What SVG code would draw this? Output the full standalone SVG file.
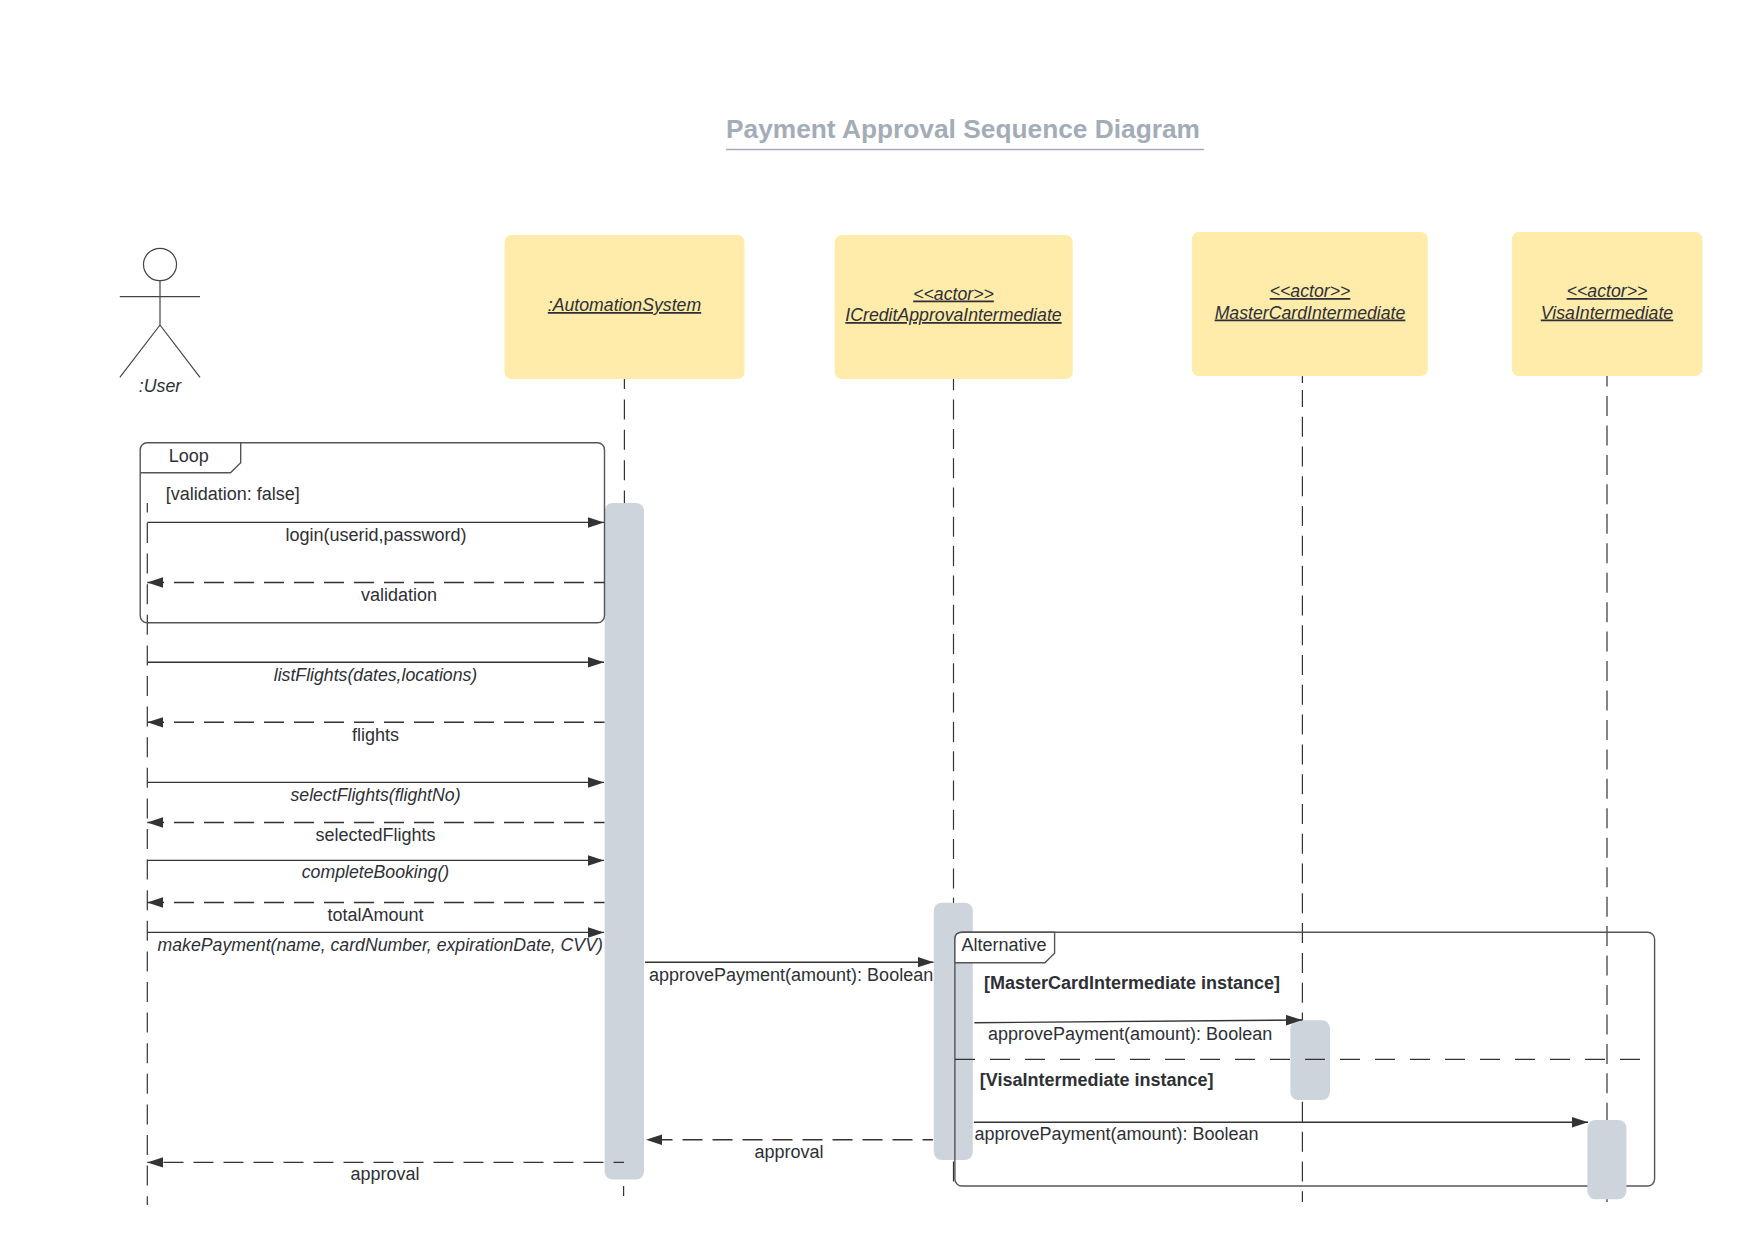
<svg xmlns="http://www.w3.org/2000/svg" width="1743" height="1245" viewBox="0 0 1743 1245">
<style>
text{font-family:"Liberation Sans",Arial,sans-serif;font-size:18px;fill:#2e3036}
.c{text-anchor:middle}
.i{font-style:italic;font-size:17.7px}
.u{text-decoration:underline}
.b{font-weight:bold}
.title{font-size:26.3px;font-weight:bold;fill:#a3acb8}
.node{fill:#ffebaa}
.bar{fill:#ced4dc}
.life{stroke:#333;stroke-width:1.2;fill:none}
.msg{stroke:#333;stroke-width:1.4;fill:none;marker-end:url(#arr)}
.ret{stroke-dasharray:20 10;stroke-dashoffset:9.5}
.frame{stroke:#555;stroke-width:1.4;fill:none}
.act{stroke:#444;stroke-width:1.2;fill:none}
</style>
<defs>
<marker id="arr" markerUnits="userSpaceOnUse" markerWidth="17" markerHeight="12" refX="16" refY="5.25" orient="auto"><path d="M0,0L16,5.25L0,10.5Z" fill="#333"/></marker>
</defs>
<rect width="1743" height="1245" fill="#fff"/>
<g id="title">
<text class="title" x="726" y="138">Payment Approval Sequence Diagram</text>
<path d="M726,149.5H1204" stroke="#a3acb8" stroke-width="1.5"/>
</g>
<g id="lifelines">
<path class="life" d="M147.3,503V1205" stroke-dasharray="20 10.6" stroke-dashoffset="10.6"/>
<path class="life" d="M624.4,378.5V503" stroke-dasharray="20 10.4" stroke-dashoffset="9.5"/>
<path class="life" d="M623.6,1186V1196"/>
<path class="life" d="M953.5,379V1185" stroke-dasharray="20 9.3" stroke-dashoffset="8.7"/>
<path class="life" d="M1302.4,376V383"/>
<path class="life" d="M1302.4,390V1202" stroke-dasharray="20 9.79" stroke-dashoffset="3.1"/>
<path class="life" d="M1607,376V1202" stroke-dasharray="20 9.45" stroke-dashoffset="9.45"/>
</g>
<g id="user">
<ellipse class="act" cx="160" cy="264.5" rx="16.5" ry="16.2"/>
<path class="act" d="M119.8,296.6H200M160,280.7V325M160,325L119.8,377.4M160,325L200,377.4"/>
<text class="c i" x="160" y="392">:User</text>
</g>
<g id="automationSystem">
<rect class="node" x="504.5" y="235" width="240" height="144" rx="7"/>
<text class="c i u" x="624.5" y="311">:AutomationSystem</text>
</g>
<g id="creditApproval">
<rect class="node" x="834.7" y="235" width="238" height="144" rx="7"/>
<text class="c i u" x="953.5" y="299.5">&lt;&lt;actor&gt;&gt;</text>
<text class="c i u" x="953.5" y="321">ICreditApprovaIntermediate</text>
</g>
<g id="masterCard">
<rect class="node" x="1191.8" y="232" width="236" height="144" rx="7"/>
<text class="c i u" x="1310" y="297">&lt;&lt;actor&gt;&gt;</text>
<text class="c i u" x="1310" y="318.5">MasterCardIntermediate</text>
</g>
<g id="visa">
<rect class="node" x="1511.8" y="232" width="190.5" height="144" rx="7"/>
<text class="c i u" x="1607" y="297">&lt;&lt;actor&gt;&gt;</text>
<text class="c i u" x="1607" y="318.5">VisaIntermediate</text>
</g>
<g id="activations">
<rect class="bar" x="604.7" y="503" width="39.3" height="676.6" rx="8"/>
<rect class="bar" x="933.8" y="902.7" width="39" height="257.3" rx="8"/>
<rect class="bar" x="1290.4" y="1020.3" width="39.6" height="79.7" rx="8"/>
</g>
<g id="loop">
<rect class="frame" x="140.2" y="442.8" width="464.3" height="179.9" rx="7"/>
<path class="frame" d="M140.2,472.7H230.5L240.7,462.7V442.8"/>
<text class="c" x="188.7" y="461.8">Loop</text>
<text x="165.7" y="500">[validation: false]</text>
</g>
<g id="alternative">
<rect x="954.9" y="932.3" width="699.7" height="253.7" rx="7" class="frame"/>
<path d="M954.9,962.7H1044.9L1054.6,953.3V932.3H962Q954.9,932.3 954.9,939Z" fill="#fff" stroke="#555" stroke-width="1.4"/>
<text x="961.4" y="951.3">Alternative</text>
<path d="M955,1059.3H1640.5" stroke="#333" stroke-width="1.3" stroke-dasharray="20 15"/>
<text class="b" x="984" y="989">[MasterCardIntermediate instance]</text>
<text class="b" x="979.8" y="1085.7">[VisaIntermediate instance]</text>
</g>
<g id="activation-visa">
<rect class="bar" x="1587.4" y="1120" width="39" height="79.3" rx="8"/>
</g>
<g id="connectors">
<path class="msg" d="M147.3,522.4H604"/>
<path class="msg ret" d="M604.5,582.5H147.3"/>
<path class="msg" d="M147.3,662.2H604"/>
<path class="msg ret" d="M604.5,722.3H147.3"/>
<path class="msg" d="M147.3,782.4H604"/>
<path class="msg ret" d="M604.5,822.5H147.3"/>
<path class="msg" d="M147.3,860.4H604"/>
<path class="msg ret" d="M604.5,902.5H147.3"/>
<path class="msg" d="M147.3,932.4H604"/>
<path class="msg" d="M645,962.2H933.5"/>
<path class="msg ret" d="M933,1139.8H646"/>
<path class="msg ret" d="M624,1162.4H147.3"/>
<path class="msg" d="M974.4,1022.7L1302,1020"/>
<path class="msg" d="M973.9,1122.3H1588"/>
</g>
<g id="labels">
<text class="c" x="376" y="541">login(userid,password)</text>
<text class="c" x="399" y="601">validation</text>
<text class="c i" x="375.5" y="681">listFlights(dates,locations)</text>
<text class="c" x="375.5" y="741.4">flights</text>
<text class="c i" x="375.5" y="801">selectFlights(flightNo)</text>
<text class="c" x="375.5" y="841">selectedFlights</text>
<text class="c i" x="375.5" y="878">completeBooking()</text>
<text class="c" x="375.5" y="921">totalAmount</text>
<text class="i" x="157.5" y="951">makePayment(name, cardNumber, expirationDate, CVV)</text>
<text x="649" y="981">approvePayment(amount): Boolean</text>
<text class="c" x="789" y="1158">approval</text>
<text class="c" x="385" y="1180">approval</text>
<text x="988" y="1040">approvePayment(amount): Boolean</text>
<text x="974.4" y="1140">approvePayment(amount): Boolean</text>
</g>
</svg>
